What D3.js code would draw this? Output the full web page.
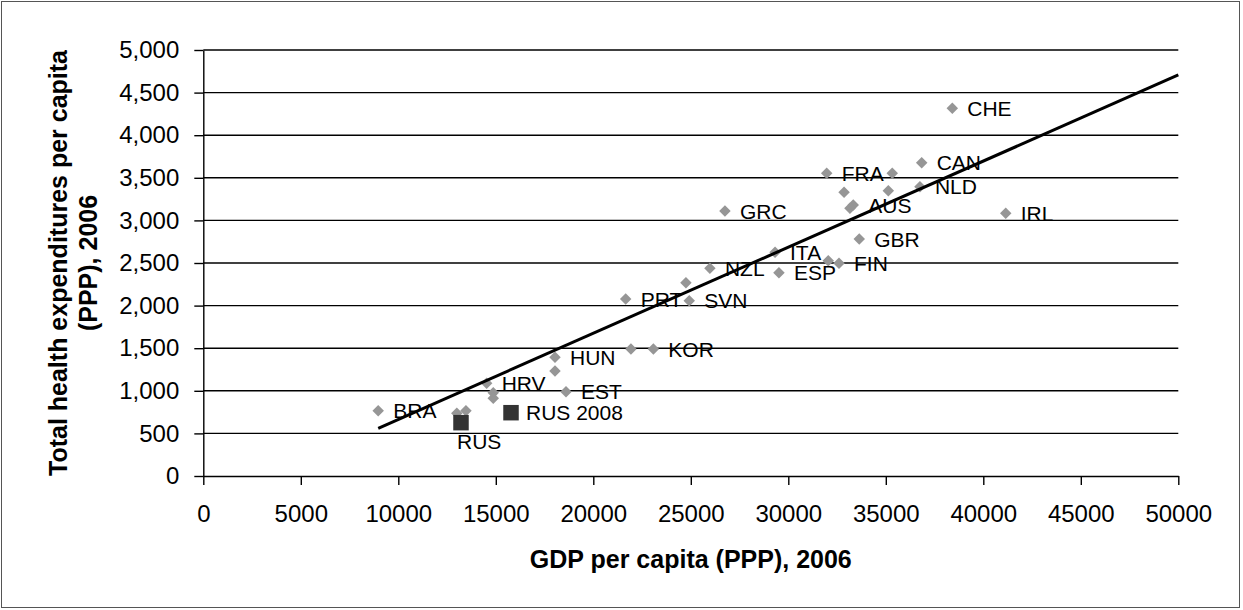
<!DOCTYPE html>
<html>
<head>
<meta charset="utf-8">
<script src="https://cdn.jsdelivr.net/npm/d3@7"></script>
<style>
  html, body { margin: 0; padding: 0; background: #fff; }
  svg { display: block; }
  text { font-family: "Liberation Sans", Arial, sans-serif; fill: #000; }
</style>
</head>
<body>
<svg id="chart" width="1243" height="610"></svg>
<script>
// ---- data ----
const countryLabels = ["BRA", "", "", "HRV", "", "", "HUN", "", "EST", "", "KOR",
  "PRT", "SVN", "", "NZL", "GRC", "ITA", "ESP", "", "FIN", "GBR",
  "FRA", "", "", "", "NLD", "AUS", "", "CAN", "CHE", "IRL"];
const gdpPerCapita = [8970, 13000, 13470, 14530, 14870, 14870, 18035, 18035, 18600, 21930, 23080,
  21660, 24920, 24750, 25980, 26750, 29320, 29520, 32050, 32600, 33640,
  31970, 35330, 32860, 35130, 36750, 33330, 33160, 36840, 38410, 41150];
const healthExpPerCapita = [765, 736, 766, 1088, 978, 912, 1393, 1232, 989, 1491, 1491,
  2077, 2058, 2269, 2438, 3110, 2626, 2386, 2527, 2497, 2782,
  3553, 3553, 3330, 3349, 3396, 3181, 3142, 3677, 4316, 3083];

const russiaLabels = ["RUS", "RUS 2008"];
const russiaGdp = [13215, 15780];
const russiaHealth = [626, 743];

const trendGdp = [8970, 50000];
const trendHealth = [560, 4707];

const xTicks = [0, 5000, 10000, 15000, 20000, 25000, 30000, 35000, 40000, 45000, 50000];
const yTicks = [0, 500, 1000, 1500, 2000, 2500, 3000, 3500, 4000, 4500, 5000];

const xTitle = "GDP per capita (PPP), 2006";
const yTitleLines = ["Total health expenditures per capita", "(PPP), 2006"];

// ---- layout ----
const svg = d3.select("#chart");
const W = 1243, H = 610;
const pLeft = 203.3, pRight = 1178.3, pTop = 50, pBottom = 476;

svg.append("rect")
  .attr("x", 1.5).attr("y", 1.5)
  .attr("width", W - 5).attr("height", H - 4)
  .attr("fill", "#fff").attr("stroke", "#555").attr("stroke-width", 1);

const x = d3.scaleLinear().domain([0, 50000]).range([pLeft, pRight]);
const y = d3.scaleLinear().domain([0, 5000]).range([pBottom, pTop]);

// gridlines
svg.append("g")
  .selectAll("line")
  .data(yTicks.filter(d => d > 0))
  .join("line")
  .attr("x1", pLeft).attr("x2", pRight)
  .attr("y1", d => y(d)).attr("y2", d => y(d))
  .attr("stroke", "#000").attr("stroke-width", 1.4);

// y axis
const yAxis = svg.append("g")
  .attr("transform", `translate(${pLeft},0)`)
  .call(d3.axisLeft(y).tickValues(yTicks).tickFormat(d3.format(","))
    .tickSizeInner(9).tickSizeOuter(0).tickPadding(15));
yAxis.selectAll("path, line").attr("stroke", "#000").attr("stroke-width", 1.4);
yAxis.selectAll("text").attr("font-size", 24).attr("font-family", "Liberation Sans, Arial, sans-serif").attr("fill", "#000");

// x axis
const xAxis = svg.append("g")
  .attr("transform", `translate(0,${pBottom})`)
  .call(d3.axisBottom(x).tickValues(xTicks).tickFormat(d3.format("d"))
    .tickSizeInner(9).tickSizeOuter(0).tickPadding(20));
xAxis.selectAll("path, line").attr("stroke", "#000").attr("stroke-width", 1.4);
xAxis.selectAll("text").attr("font-size", 24).attr("font-family", "Liberation Sans, Arial, sans-serif").attr("fill", "#000");

// axis titles
svg.append("text")
  .attr("x", (pLeft + pRight) / 2).attr("y", 568)
  .attr("text-anchor", "middle")
  .attr("font-size", 25).attr("font-weight", "bold")
  .text(xTitle);

const yt = svg.append("g")
  .attr("transform", `translate(67,${(pTop + pBottom) / 2}) rotate(-90)`);
yt.selectAll("text")
  .data(yTitleLines)
  .join("text")
  .attr("x", 0).attr("y", (d, i) => i * 30)
  .attr("text-anchor", "middle")
  .attr("font-size", 25).attr("font-weight", "bold")
  .text(d => d);

// points
const pts = gdpPerCapita.map((g, i) => ({ g, h: healthExpPerCapita[i], label: countryLabels[i] }));
const diamond = d3.symbol(d3.symbolSquare, 66);
svg.append("g")
  .selectAll("path")
  .data(pts)
  .join("path")
  .attr("d", diamond)
  .attr("transform", d => `translate(${x(d.g)},${y(d.h)}) rotate(45)`)
  .attr("fill", "#969696");

// trend line
svg.append("line")
  .attr("x1", x(trendGdp[0])).attr("y1", y(trendHealth[0]))
  .attr("x2", x(trendGdp[1])).attr("y2", y(trendHealth[1]))
  .attr("stroke", "#000").attr("stroke-width", 3);

// Russia squares
const rus = russiaGdp.map((g, i) => ({ g, h: russiaHealth[i], label: russiaLabels[i] }));
const square = d3.symbol(d3.symbolSquare, 240);
svg.append("g")
  .selectAll("path")
  .data(rus)
  .join("path")
  .attr("d", square)
  .attr("transform", d => `translate(${x(d.g)},${y(d.h)})`)
  .attr("fill", "#333333");

// labels
const lbl = svg.append("g").attr("font-size", 21);
lbl.selectAll("text.c")
  .data(pts.filter(d => d.label))
  .join("text")
  .attr("class", "c")
  .attr("x", d => x(d.g) + 15)
  .attr("y", d => y(d.h))
  .attr("dy", "0.36em")
  .text(d => d.label);

lbl.selectAll("text.r")
  .data(rus)
  .join("text")
  .attr("class", "r")
  .attr("x", (d, i) => i === 0 ? x(d.g) - 4 : x(d.g) + 15)
  .attr("y", (d, i) => i === 0 ? y(d.h) + 19 : y(d.h))
  .attr("dy", "0.36em")
  .text(d => d.label);
</script>
</body>
</html>
